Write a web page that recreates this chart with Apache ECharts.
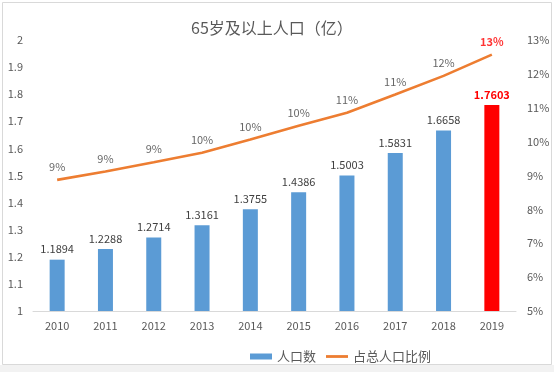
<!DOCTYPE html>
<html><head><meta charset="utf-8">
<script src="https://cdn.jsdelivr.net/npm/echarts@6/dist/echarts.min.js"></script>
<style>html,body{margin:0;padding:0;background:#fff}#c{width:554px;height:372px}</style>
</head><body><div id="c"></div>
<script>
const years = ['2010','2011','2012','2013','2014','2015','2016','2017','2018','2019'];
const population = [1.1894, 1.2288, 1.2714, 1.3161, 1.3755, 1.4386, 1.5003, 1.5831, 1.6658, 1.7603];
const ratio = [8.87, 9.12, 9.39, 9.67, 10.06, 10.47, 10.85, 11.39, 11.94, 12.57];
const leftTicks = [1, 2, 0.1];
const rightTicks = [5, 13, 1];
const highlightIndex = 9;

const chart = echarts.init(document.getElementById('c'), null, {renderer:'canvas'});
const font = '"Noto Sans CJK SC", "Noto Sans", sans-serif';
chart.setOption({
  animation:false,
  backgroundColor:'#fff',
  title:{text:'65岁及以上人口（亿）', left:186, top:15, textStyle:{fontFamily:font, fontSize:16, fontWeight:'normal', color:'#595959'}},
  graphic:[
    {type:'rect', shape:{x:2.5,y:2.5,width:549,height:362}, style:{fill:'none', stroke:'#d9d9d9', lineWidth:1}, silent:true, z:-1},
    {type:'rect', shape:{x:0,y:365,width:554,height:7}, style:{fill:'#f2f2f2'}, silent:true, z:-1}
  ],
  legend:{left:245, top:345, itemWidth:22, itemHeight:6, itemGap:10,
    textStyle:{fontFamily:font, fontSize:13, color:'#595959'},
    data:[{name:'人口数', icon:'rect'}, {name:'占总人口比例', icon:'path://M0,0M0,1.6L22,1.6L22,4.4L0,4.4ZM22,6', itemStyle:{color:'#ED7D31'}}]},
  grid:{left:33, right:38, top:40, bottom:61},
  xAxis:{type:'category', data:years, axisTick:{show:false},
    axisLine:{lineStyle:{color:'#d9d9d9'}},
    axisLabel:{fontFamily:font, fontSize:11, color:'#595959', margin:9}},
  yAxis:[
    {type:'value', min:leftTicks[0], max:leftTicks[1], interval:leftTicks[2], splitLine:{show:false},
     axisLine:{show:false}, axisTick:{show:false},
     axisLabel:{fontFamily:font, fontSize:11, color:'#595959', margin:10}},
    {type:'value', min:rightTicks[0], max:rightTicks[1], interval:rightTicks[2], splitLine:{show:false},
     axisLine:{show:false}, axisTick:{show:false},
     axisLabel:{fontFamily:font, fontSize:11, color:'#595959', margin:11, formatter:'{value}%'}}
  ],
  series:[
    {name:'人口数', type:'bar', yAxisIndex:0, barWidth:15,
     itemStyle:{color:'#5B9BD5'},
     data: population.map((v,i)=> i===highlightIndex ? {value:v, itemStyle:{color:'#FF0000'}, label:{color:'#FF0000', fontWeight:'bold'}} : v),
     label:{show:true, position:'top', fontFamily:font, fontSize:11, color:'#404040', formatter:p=>p.value.toFixed(4)}},
    {name:'占总人口比例', type:'line', yAxisIndex:1, symbol:'none',
     lineStyle:{color:'#ED7D31', width:2.6}, itemStyle:{color:'#ED7D31'},
     data: ratio},
    {name:'占总人口比例标签', type:'scatter', yAxisIndex:1, symbolSize:1, itemStyle:{color:'rgba(0,0,0,0)'}, silent:true,
     data: ratio.map((v,i)=> i===highlightIndex ? {value:v, label:{color:'#FF0000', fontWeight:'bold'}} : v),
     label:{show:true, position:'top', distance:7, fontFamily:font, fontSize:11, color:'#404040', formatter:p=>Math.round(p.value)+'%'}}
  ]
});
</script></body></html>
